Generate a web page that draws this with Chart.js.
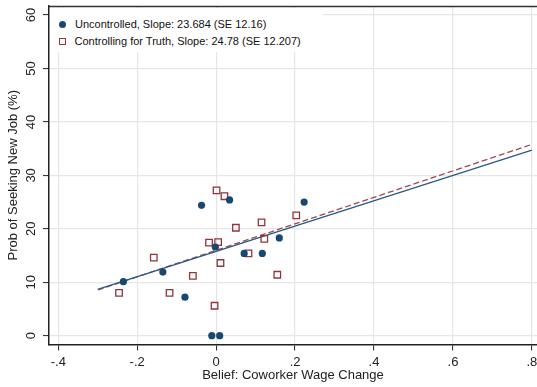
<!DOCTYPE html>
<html>
<head>
<title>Belief and job search</title>
<script src="https://cdn.jsdelivr.net/npm/chart.js"></script>
<style>
  body { margin: 0; background: #fff; font-family: "Liberation Sans", Arial, sans-serif; }
  #wrap { position: relative; width: 537px; height: 387px; }
  #legend { position: absolute; left: 50px; top: 8px; width: 273px; height: 44px; background: #fff;
            font-size: 11px; color: #111; }
  .row { position: absolute; left: 9px; height: 14px; line-height: 14px; white-space: nowrap; }
  .dot { display: inline-block; width: 7px; height: 7px; border-radius: 50%; background: #1a476f;
         vertical-align: -0.5px; margin-right: 9px; }
  .sq { display: inline-block; width: 5px; height: 5px; border: 1.3px solid #90353b; background: #fff;
        vertical-align: -0.5px; margin-right: 8.5px; }
</style>
</head>
<body>
<div id="wrap">
  <canvas id="chart"></canvas>
  <div id="legend">
    <div class="row" style="top:8.5px"><span class="dot"></span>Uncontrolled, Slope: 23.684 (SE 12.16)</div>
    <div class="row" style="top:25.5px"><span class="sq"></span>Controlling for Truth, Slope: 24.78 (SE 12.207)</div>
  </div>
</div>
<script>
// values
const uncontrolledX = [-0.235, -0.135, -0.079, -0.037, 0.034, -0.002, 0.071, 0.117, 0.160, 0.223, -0.011, 0.009];
const uncontrolledY = [10.1, 11.9, 7.2, 24.4, 25.4, 16.6, 15.4, 15.4, 18.3, 25.0, 0, 0];

const controlledX = [0.001, 0.021, 0.050, 0.115, 0.203, 0.122, -0.018, 0.005, -0.158, 0.082, 0.011, -0.059, 0.155, -0.246, -0.118, -0.004];
const controlledY = [27.2, 26.1, 20.2, 21.2, 22.5, 18.1, 17.4, 17.5, 14.6, 15.4, 13.6, 11.2, 11.4, 8.0, 8.0, 5.6];

// fitted lines, end points
const fitX = [-0.3, 0.8];
const fitUncontrolledY = [8.68, 34.74];
const fitControlledY = [8.55, 35.8];

const xTicks = [-0.4, -0.2, 0, 0.2, 0.4, 0.6, 0.8];
const xTickLabels = ['-.4', '-.2', '0', '.2', '.4', '.6', '.8'];
const yTicks = [0, 10, 20, 30, 40, 50, 60];

const navy = '#1a476f';
const maroon = '#90353b';
const gridCol = '#e6e6e6';
const font = { family: '"Liberation Sans", Arial, sans-serif', size: 13 };

function pts(xs, ys) {
    return xs.map((x, i) => ({ x: x, y: ys[i] }));
}

// dark line along the top of the plot area
const topFrame = {
    id: 'topFrame',
    afterDraw(chart) {
        const a = chart.chartArea, ctx = chart.ctx;
        ctx.save();
        ctx.strokeStyle = '#333';
        ctx.lineWidth = 1.5;
        ctx.setLineDash([]);
        ctx.beginPath();
        ctx.moveTo(a.left, a.top + 0.5);
        ctx.lineTo(a.right, a.top + 0.5);
        ctx.stroke();
        ctx.restore();
    }
};

new Chart(document.getElementById('chart'), {
    type: 'scatter',
    data: {
        datasets: [
            {
                label: 'Uncontrolled',
                data: pts(uncontrolledX, uncontrolledY),
                backgroundColor: navy,
                borderColor: navy,
                pointRadius: 3.6,
                borderWidth: 0
            },
            {
                label: 'Controlling for Truth',
                data: pts(controlledX, controlledY),
                pointStyle: 'rect',
                backgroundColor: 'rgba(0,0,0,0)',
                borderColor: maroon,
                pointRadius: 4.6,
                borderWidth: 1.3
            },
            {
                data: pts(fitX, fitUncontrolledY),
                showLine: true,
                borderColor: '#2a5a84',
                borderWidth: 1.4,
                pointRadius: 0
            },
            {
                data: pts(fitX, fitControlledY),
                showLine: true,
                borderColor: '#9a4a50',
                borderWidth: 1.3,
                borderDash: [6, 3],
                pointRadius: 0
            }
        ]
    },
    options: {
        responsive: true,
        maintainAspectRatio: false,
        animation: false,
        layout: { autoPadding: false, padding: { top: 6, right: 0, left: 0, bottom: 0 } },
        plugins: { legend: { display: false }, tooltip: { enabled: false } },
        scales: {
            x: {
                type: 'linear',
                min: -0.4235,
                max: 0.813,
                afterBuildTicks: s => { s.ticks = xTicks.map(v => ({ value: v })); },
                afterFit: s => { s.height = 42.5; s.paddingLeft = 0; s.paddingRight = 0; },
                ticks: {
                    font: font, color: '#222', padding: 4,
                    maxRotation: 0,
                    callback: v => xTickLabels[xTicks.indexOf(v)]
                },
                grid: { color: gridCol, lineWidth: 1.2, tickColor: '#222', tickLength: 6, tickWidth: 1 },
                border: { color: '#222', width: 1.5 },
                title: { display: true, text: 'Belief: Coworker Wage Change', font: font, color: '#222', padding: { top: 0, bottom: 4 } }
            },
            y: {
                min: -1.65,
                max: 61.7,
                afterBuildTicks: s => { s.ticks = yTicks.map(v => ({ value: v })); },
                afterFit: s => { s.width = 49; s.paddingTop = 0; s.paddingBottom = 0; },
                ticks: {
                    font: font, color: '#222', padding: 4,
                    minRotation: 90, maxRotation: 90,
                    crossAlign: 'center'
                },
                grid: { color: gridCol, lineWidth: 1.2, tickColor: '#222', tickLength: 6, tickWidth: 1 },
                border: { color: '#222', width: 1.5 },
                title: { display: true, text: 'Prob of Seeking New Job (%)', font: font, color: '#222', padding: { top: 6, bottom: 0 } }
            }
        }
    },
    plugins: [topFrame]
});
</script>
</body>
</html>
